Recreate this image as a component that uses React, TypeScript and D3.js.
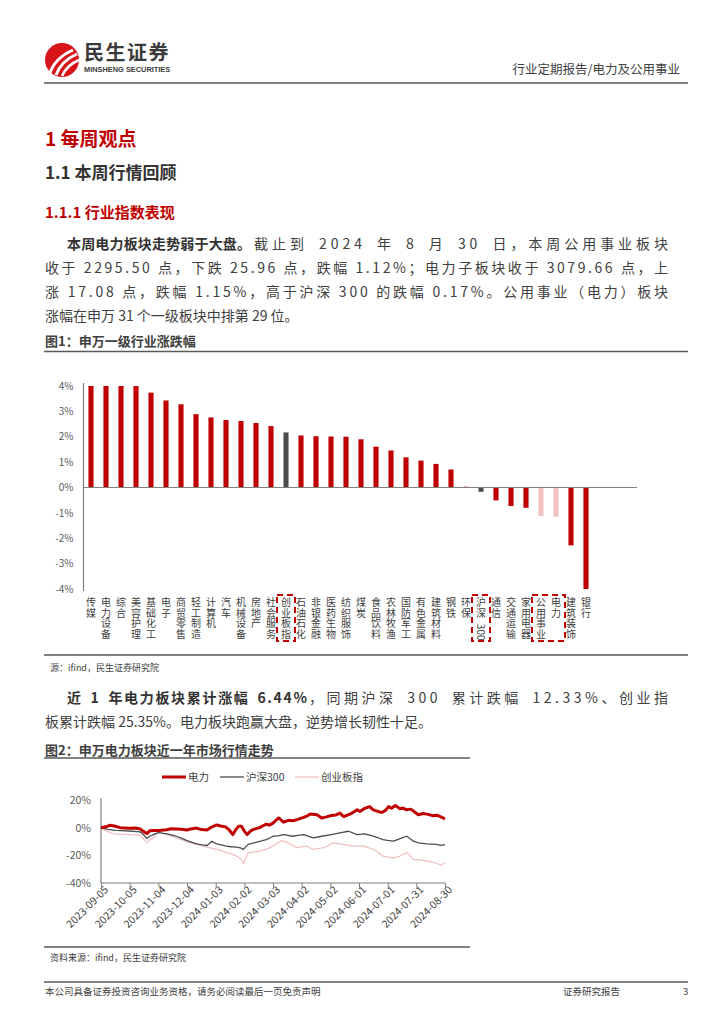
import { useRef, useEffect } from 'react'
import * as d3 from 'd3'

// 图1 data: weekly change by SW level-1 industry (%)
const industries = [
  "传媒", "电力设备", "综合", "美容护理", "基础化工", "电子", "商贸零售", "轻工制造",
  "计算机", "汽车", "机械设备", "房地产", "社会服务", "创业板指", "石油石化", "非银金融",
  "医药生物", "纺织服饰", "煤炭", "食品饮料", "农林牧渔", "国防军工", "有色金属", "建筑材料",
  "钢铁", "环保", "沪深300", "通信", "交通运输", "家用电器", "公用事业", "电力", "建筑装饰", "银行"
]
const weeklyChange = [
  4.0, 4.0, 4.0, 4.0, 3.74, 3.43, 3.28, 2.89,
  2.76, 2.66, 2.62, 2.54, 2.42, 2.17, 2.05, 2.02,
  2.01, 2.0, 1.9, 1.61, 1.46, 1.19, 1.06, 0.93,
  0.71, 0.03, -0.17, -0.51, -0.73, -0.8, -1.12, -1.15, -2.28, -4.0
]
const indexNames = ["创业板指", "沪深300"]
const focusNames = ["公用事业", "电力"]
const boxedGroups = [["创业板指"], ["沪深300"], ["公用事业", "电力"]]
const barTicks = [4, 3, 2, 1, 0, -1, -2, -3, -4]

// 图2 data: cumulative change over the last year (%)
const powerSeries: [string, number][] = [
  ["2023-09-05", 0], ["2023-09-11", 0.8], ["2023-09-14", 1.7], ["2023-09-19", 1.2], ["2023-09-25", 0],
  ["2023-10-05", -0.5], ["2023-10-11", -0.3], ["2023-10-16", -1], ["2023-10-19", -2.5],
  ["2023-10-23", -4.3], ["2023-10-26", -2.2], ["2023-10-30", -2], ["2023-11-04", -2],
  ["2023-11-13", -1.5], ["2023-11-17", -0.8], ["2023-11-23", -1], ["2023-11-28", -1.2],
  ["2023-12-04", -1.7], ["2023-12-08", -0.9], ["2023-12-14", -0.3], ["2023-12-19", -1.4],
  ["2023-12-25", -1.7], ["2023-12-29", 0.2], ["2024-01-04", 2], ["2024-01-08", 1.2],
  ["2024-01-13", 0.7], ["2024-01-17", -1.5], ["2024-01-21", -5], ["2024-01-24", -1.5],
  ["2024-01-27", 1], ["2024-01-30", 1], ["2024-02-02", -2.5], ["2024-02-05", -5],
  ["2024-02-08", -2.8], ["2024-02-11", -1.4], ["2024-02-18", 0], ["2024-02-21", 1.2],
  ["2024-02-25", 2.6], ["2024-02-28", 1.8], ["2024-03-03", 3.3], ["2024-03-06", 5.2],
  ["2024-03-09", 7], ["2024-03-14", 4], ["2024-03-19", 5.3], ["2024-03-24", 5],
  ["2024-03-29", 6], ["2024-04-04", 7.4], ["2024-04-08", 8.6], ["2024-04-11", 9.8],
  ["2024-04-18", 9.3], ["2024-04-23", 7], ["2024-04-28", 7.8], ["2024-05-03", 8.8],
  ["2024-05-08", 9.2], ["2024-05-12", 10.5], ["2024-05-16", 8], ["2024-05-23", 10],
  ["2024-05-27", 11.5], ["2024-05-30", 12.9], ["2024-06-02", 11.7], ["2024-06-07", 14],
  ["2024-06-12", 15.2], ["2024-06-16", 12.9], ["2024-06-23", 11.2], ["2024-06-26", 11.2],
  ["2024-06-29", 12.8], ["2024-07-02", 15.2], ["2024-07-05", 14], ["2024-07-09", 16],
  ["2024-07-14", 13.6], ["2024-07-17", 14.2], ["2024-07-21", 12.9], ["2024-07-25", 13.4],
  ["2024-07-28", 12], ["2024-08-02", 9.3], ["2024-08-07", 10.2], ["2024-08-11", 9.8],
  ["2024-08-18", 8.6], ["2024-08-22", 8.9], ["2024-08-25", 8], ["2024-08-30", 6.44]
]
const hs300Series: [string, number][] = [
  ["2023-09-05", 0], ["2023-09-12", -1.2], ["2023-09-21", -2], ["2023-10-05", -2.4],
  ["2023-10-16", -3], ["2023-10-20", -5.5], ["2023-10-23", -7.9], ["2023-10-26", -6.2],
  ["2023-10-30", -5], ["2023-11-04", -3.6], ["2023-11-13", -4.5], ["2023-11-23", -6.2],
  ["2023-11-28", -7.5], ["2023-12-04", -9.3], ["2023-12-08", -10.2], ["2023-12-14", -11.7],
  ["2023-12-20", -12.5], ["2023-12-25", -12.9], ["2023-12-30", -9.8], ["2024-01-04", -11.7],
  ["2024-01-09", -12.4], ["2024-01-14", -13.3], ["2024-01-19", -13.8], ["2024-01-25", -14],
  ["2024-01-29", -14.6], ["2024-02-01", -15.7], ["2024-02-06", -12.1], ["2024-02-15", -10.5],
  ["2024-02-20", -9.6], ["2024-02-25", -8.6], ["2024-03-03", -6.2], ["2024-03-08", -6],
  ["2024-03-14", -5], ["2024-03-24", -6.2], ["2024-03-29", -5.6], ["2024-04-04", -5],
  ["2024-04-14", -7.4], ["2024-04-23", -6.2], ["2024-05-03", -5], ["2024-05-12", -3.8],
  ["2024-05-21", -2.6], ["2024-05-30", -5], ["2024-06-07", -4.5], ["2024-06-16", -6.2],
  ["2024-06-21", -7.3], ["2024-06-26", -8.6], ["2024-07-01", -9.2], ["2024-07-07", -9.8],
  ["2024-07-14", -7.9], ["2024-07-21", -6.2], ["2024-07-28", -9.8], ["2024-08-02", -11],
  ["2024-08-11", -11.7], ["2024-08-21", -12.1], ["2024-08-26", -12.8], ["2024-08-30", -12.33]
]
const chinextSeries: [string, number][] = [
  ["2023-09-05", 0], ["2023-09-11", -2.5], ["2023-09-18", -4.5], ["2023-10-05", -5],
  ["2023-10-16", -5.5], ["2023-10-20", -8.5], ["2023-10-23", -11], ["2023-10-26", -9],
  ["2023-10-30", -7.4], ["2023-11-04", -3.3], ["2023-11-13", -5], ["2023-11-23", -7.4],
  ["2023-11-28", -8.6], ["2023-12-04", -10.2], ["2023-12-14", -12.1], ["2023-12-20", -13.2],
  ["2023-12-25", -14], ["2024-01-04", -15.7], ["2024-01-09", -16.5], ["2024-01-14", -18],
  ["2024-01-19", -18.8], ["2024-01-25", -20.5], ["2024-01-29", -22.5], ["2024-02-01", -26],
  ["2024-02-06", -18], ["2024-02-15", -17.4], ["2024-02-25", -15.7], ["2024-03-03", -13.3],
  ["2024-03-08", -11.2], ["2024-03-12", -9.3], ["2024-03-19", -11], ["2024-03-28", -14.5],
  ["2024-04-07", -13.3], ["2024-04-14", -15.7], ["2024-04-25", -14.5], ["2024-05-05", -11],
  ["2024-05-16", -12.1], ["2024-05-26", -13.3], ["2024-06-06", -13.3], ["2024-06-16", -15.7],
  ["2024-06-21", -17.8], ["2024-06-26", -20.5], ["2024-07-07", -22], ["2024-07-14", -20.5],
  ["2024-07-21", -18], ["2024-07-28", -22.9], ["2024-08-07", -23.6], ["2024-08-18", -25],
  ["2024-08-26", -27], ["2024-08-30", -25.35]
]
const trendTicks = [
  "2023-09-05", "2023-10-05", "2023-11-04", "2023-12-04", "2024-01-03", "2024-02-02", "2024-03-03",
  "2024-04-02", "2024-05-02", "2024-06-01", "2024-07-01", "2024-07-31", "2024-08-30"
]
const trendYTicks = [20, 0, -20, -40]

const RED = "#C00000"
const DARK = "#4D4D4D"
const PINK = "#F2C2C2"
const AXIS = "#808080"
const TEXT = "#404040"
const FONT = "'Noto Sans CJK SC', 'Noto Sans', sans-serif"

export default function App() {
  const barRef = useRef<SVGGElement>(null)
  const lineRef = useRef<SVGGElement>(null)

  useEffect(() => {
    if (!barRef.current) return
    const g = d3.select(barRef.current)
    g.selectAll("*").remove()

    const x = d3.scaleBand<string>()
      .domain(industries)
      .range([83.5, 593.5])
      .paddingInner(0.66)
      .paddingOuter(0.33)
    const y = d3.scaleLinear().domain([-4, 4]).range([589, 386])

    // y axis labels
    g.append("g")
      .attr("transform", "translate(83.5,0)")
      .call(d3.axisLeft(y).tickValues(barTicks).tickSize(0).tickPadding(10).tickFormat(d => `${d}%`))
      .call(s => s.select(".domain").remove())
      .call(s => s.selectAll("text").attr("fill", "#595959").style("font-size", "10px").style("font-family", FONT))

    const data = industries.map((name, i) => ({ name, value: weeklyChange[i] }))

    g.selectAll(".bar")
      .data(data)
      .enter()
      .append("rect")
      .attr("class", "bar")
      .attr("x", d => x(d.name)!)
      .attr("width", x.bandwidth())
      .attr("y", d => Math.min(y(d.value), y(0)))
      .attr("height", d => Math.abs(y(d.value) - y(0)))
      .attr("fill", d => indexNames.includes(d.name) ? DARK : focusNames.includes(d.name) ? PINK : RED)

    g.append("line")
      .attr("x1", 83.5).attr("x2", 83.5)
      .attr("y1", 383).attr("y2", 591)
      .attr("stroke", AXIS).attr("stroke-width", 1.2)
    g.append("line")
      .attr("x1", 83.5).attr("x2", 637)
      .attr("y1", y(0)).attr("y2", y(0))
      .attr("stroke", AXIS).attr("stroke-width", 1.2)

    // vertical category labels, one character per line; digits turned sideways
    const labelTop = 606
    const lh = 10.6
    data.forEach(d => {
      const cx = x(d.name)! + x.bandwidth() / 2
      const m = d.name.match(/^(\D+)(\d+)$/)
      const chars = m ? m[1].split("") : d.name.split("")
      chars.forEach((c, i) => {
        g.append("text")
          .attr("x", cx)
          .attr("y", labelTop + i * lh)
          .attr("text-anchor", "middle")
          .attr("fill", TEXT)
          .style("font-size", "10px")
          .style("font-family", FONT)
          .text(c)
      })
      if (m) {
        g.append("text")
          .attr("transform", `translate(${cx},${labelTop + chars.length * lh + 5}) rotate(90)`)
          .attr("text-anchor", "middle")
          .attr("dominant-baseline", "central")
          .attr("fill", TEXT)
          .style("font-size", "10px")
          .style("font-family", FONT)
          .text(m[2])
      }
    })

    // dashed highlight boxes
    boxedGroups.forEach(group => {
      const x0 = x(group[0])! + x.bandwidth() / 2 - 9
      const x1 = x(group[group.length - 1])! + x.bandwidth() / 2 + 9
      const maxLen = d3.max(group, n => n.length)!
      g.append("rect")
        .attr("x", x0).attr("y", 595)
        .attr("width", x1 - x0)
        .attr("height", maxLen >= 4 ? 46 : 43)
        .attr("fill", "none")
        .attr("stroke", RED)
        .attr("stroke-width", 2)
        .attr("stroke-dasharray", "6,4")
    })
  }, [])

  useEffect(() => {
    if (!lineRef.current) return
    const g = d3.select(lineRef.current)
    g.selectAll("*").remove()

    const parse = d3.timeParse("%Y-%m-%d")
    const x = d3.scaleTime()
      .domain([parse("2023-09-05")!, parse("2024-08-30")!])
      .range([101, 445])
    const y = d3.scaleLinear().domain([-40, 20]).range([883, 800])

    g.append("g")
      .attr("transform", "translate(101,0)")
      .call(d3.axisLeft(y).tickValues(trendYTicks).tickSize(0).tickPadding(10).tickFormat(d => `${d}%`))
      .call(s => s.select(".domain").remove())
      .call(s => s.selectAll("text").attr("fill", "#595959").style("font-size", "10.5px").style("font-family", FONT))

    const xAxis = g.append("g")
      .attr("transform", "translate(0,883)")
      .call(d3.axisBottom(x)
        .tickValues(trendTicks.map(t => parse(t)!))
        .tickSize(4)
        .tickPadding(3)
        .tickFormat(d => d3.timeFormat("%Y-%m-%d")(d as Date)))
    xAxis.select(".domain").remove()
    xAxis.selectAll("line").attr("stroke", AXIS)
    xAxis.selectAll("text")
      .attr("fill", TEXT)
      .style("font-size", "10.5px")
      .style("font-family", FONT)
      .attr("text-anchor", "end")
      .attr("transform", "translate(2,2) rotate(-45)")
      .attr("dy", "0.35em")
      .attr("y", 4)

    g.append("line")
      .attr("x1", 101).attr("x2", 101).attr("y1", 798).attr("y2", 883)
      .attr("stroke", AXIS).attr("stroke-width", 1.2)
    g.append("line")
      .attr("x1", 101).attr("x2", 445).attr("y1", 883).attr("y2", 883)
      .attr("stroke", AXIS).attr("stroke-width", 1.2)

    const line = d3.line<[string, number]>()
      .x(d => x(parse(d[0])!))
      .y(d => y(d[1]))

    const series = [
      { name: "创业板指", data: chinextSeries, color: PINK, width: 1.3 },
      { name: "沪深300", data: hs300Series, color: DARK, width: 1.3 },
      { name: "电力", data: powerSeries, color: RED, width: 3 },
    ]
    series.forEach(s => {
      g.append("path")
        .datum(s.data)
        .attr("d", line)
        .attr("fill", "none")
        .attr("stroke", s.color)
        .attr("stroke-width", s.width)
        .attr("stroke-linejoin", "round")
    })

    // legend
    const legend = [
      { name: "电力", color: RED, width: 3, x: 162 },
      { name: "沪深300", color: DARK, width: 1.3, x: 220 },
      { name: "创业板指", color: PINK, width: 1.3, x: 295 },
    ]
    legend.forEach(l => {
      g.append("line")
        .attr("x1", l.x).attr("x2", l.x + 24)
        .attr("y1", 777).attr("y2", 777)
        .attr("stroke", l.color).attr("stroke-width", l.width)
      g.append("text")
        .attr("x", l.x + 26).attr("y", 781)
        .attr("fill", TEXT)
        .style("font-size", "10.5px")
        .style("font-family", FONT)
        .text(l.name)
    })
  }, [])

  return (
    <svg width={724} height={1024} style={{ position: 'absolute', left: 0, top: 0, background: '#fff', fontFamily: FONT }}>
      {/* header */}
      <circle cx={62} cy={60} r={17} fill="#D7141A" />
      <path d="M50,73 Q55,58 73,50" stroke="#fff" strokeWidth={3} fill="none" />
      <path d="M56,75 Q61,61 77,54" stroke="#fff" strokeWidth={3} fill="none" />
      <path d="M62,76 Q67,65 79,60" stroke="#fff" strokeWidth={2.5} fill="none" />
      <text x={84} y={60} fontSize={20} fontWeight={700} fill="#3a3a3a" letterSpacing={1.5}>民生证券</text>
      <text x={84} y={72} fontSize={7.4} fontWeight={700} fill="#3a3a3a" fontFamily="'Liberation Sans Narrow', 'Liberation Sans', sans-serif">MINSHENG SECURITIES</text>
      <text x={680} y={74} fontSize={12.5} fill={TEXT} textAnchor="end">行业定期报告/电力及公用事业</text>
      <line x1={44} x2={688} y1={83} y2={83} stroke="#595959" strokeWidth={1.3} />

      {/* headings */}
      <text x={45} y={146} fontSize={19} fontWeight={700} fill={RED}>1 每周观点</text>
      <text x={45} y={179} fontSize={17} fontWeight={700} fill="#333">1.1 本周行情回顾</text>
      <text x={45} y={218} fontSize={15} fontWeight={700} fill={RED}>1.1.1 行业指数表现</text>

      {/* paragraph 1 */}
      <text x={67} y={249} fontSize={14} fontWeight={700} fill="#333" textLength={184} lengthAdjust="spacing">本周电力板块走势弱于大盘。</text>
      <text x={254} y={249} fontSize={14} fill={TEXT} wordSpacing={4} textLength={414} lengthAdjust="spacing">截止到 2024 年 8 月 30 日，本周公用事业板块</text>
      <text x={45} y={273} fontSize={14} fill={TEXT} textLength={623} lengthAdjust="spacing">收于 2295.50 点，下跌 25.96 点，跌幅 1.12%；电力子板块收于 3079.66 点，上</text>
      <text x={45} y={297} fontSize={14} fill={TEXT} textLength={623} lengthAdjust="spacing">涨 17.08 点，跌幅 1.15%，高于沪深 300 的跌幅 0.17%。公用事业（电力）板块</text>
      <text x={45} y={321} fontSize={14} fill={TEXT}>涨幅在申万 31 个一级板块中排第 29 位。</text>

      {/* figure 1 */}
      <text x={45} y={346} fontSize={13} fontWeight={700} fill={TEXT}>图1：申万一级行业涨跌幅</text>
      <line x1={44} x2={688} y1={351.5} y2={351.5} stroke="#595959" strokeWidth={1.3} />
      <g ref={barRef} />
      <line x1={44} x2={688} y1={655} y2={655} stroke="#595959" strokeWidth={1.3} />
      <text x={50} y={671} fontSize={9} fill={TEXT}>源：ifind，民生证券研究院</text>

      {/* paragraph 2 */}
      <text x={67} y={703} fontSize={14} fontWeight={700} fill="#333" wordSpacing={3} textLength={240} lengthAdjust="spacing">近 1 年电力板块累计涨幅 6.44%</text>
      <text x={309} y={703} fontSize={14} fill={TEXT} wordSpacing={4} textLength={359} lengthAdjust="spacing">，同期沪深 300 累计跌幅 12.33%、创业指</text>
      <text x={45} y={727} fontSize={14} fill={TEXT}>板累计跌幅 25.35%。电力板块跑赢大盘，逆势增长韧性十足。</text>

      {/* figure 2 */}
      <text x={45} y={755} fontSize={13} fontWeight={700} fill={TEXT}>图2：申万电力板块近一年市场行情走势</text>
      <line x1={44} x2={470} y1={758} y2={758} stroke="#595959" strokeWidth={1.3} />
      <g ref={lineRef} />
      <line x1={44} x2={470} y1={947} y2={947} stroke="#595959" strokeWidth={1.3} />
      <text x={50} y={961} fontSize={9} fill={TEXT}>资料来源：ifind，民生证券研究院</text>

      {/* footer */}
      <line x1={44} x2={688} y1={982} y2={982} stroke="#595959" strokeWidth={1.3} />
      <text x={45} y={995} fontSize={9.5} fill={TEXT}>本公司具备证券投资咨询业务资格，请务必阅读最后一页免责声明</text>
      <text x={563} y={995} fontSize={9.5} fill={TEXT}>证券研究报告</text>
      <text x={683} y={995} fontSize={9.5} fill={TEXT}>3</text>
    </svg>
  )
}
